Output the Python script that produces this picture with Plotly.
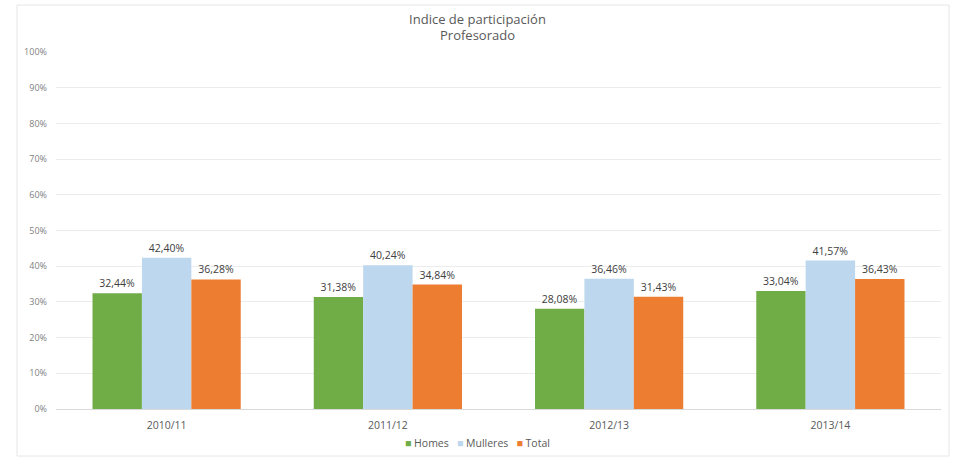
import plotly.graph_objects as go

categories = ["2010/11", "2011/12", "2012/13", "2013/14"]
homes = [32.44, 31.38, 28.08, 33.04]
mulleres = [42.40, 40.24, 36.46, 41.57]
total = [36.28, 34.84, 31.43, 36.43]
y_ticks = [0, 10, 20, 30, 40, 50, 60, 70, 80, 90, 100]
y_tick_labels = [f"{v}%" for v in y_ticks]

FONT = "Open Sans"
series = [("Homes", homes, "#70AD47"), ("Mulleres", mulleres, "#BDD7EE"), ("Total", total, "#ED7D31")]

fig = go.Figure()
for name, vals, col in series:
    fig.add_trace(go.Bar(
        name=name, x=categories, y=vals, marker=dict(color=col, line=dict(width=0)),
        texttemplate="%{y:.2f}%", textposition="outside", cliponaxis=False,
        textfont=dict(family=FONT, size=10.5, color="#404040"),
    ))

W, H = 955, 458
l, r, t, b = 56, 14, 52, 49
pw, ph = W - l - r, H - t - b

def px(x):
    return (x - l) / pw

def py(y):
    return (H - b - y) / ph

legend_text = "&nbsp;&nbsp;&nbsp;".join(
    f"<span style='color:{col}'>■</span> {name}" for name, _, col in series
)

fig.update_layout(
    width=W, height=H, margin=dict(l=l, r=r, t=t, b=b, autoexpand=False),
    paper_bgcolor="white", plot_bgcolor="white",
    separators=",.",
    barmode="group", bargap=0.33, bargroupgap=0,
    showlegend=False,
    font=dict(family=FONT, color="#595959"),
    title=dict(text="Indice de participación<br>Profesorado", x=0.5, xanchor="center",
               yref="container", y=1 - 23.5 / H, yanchor="middle",
               font=dict(family=FONT, size=13, color="#595959")),
    xaxis=dict(showgrid=False, tickfont=dict(family=FONT, size=10.5, color="#595959"),
               showline=True, linecolor="#d9d9d9", linewidth=1, ticks="", automargin=False,
               ticklabelstandoff=6),
    yaxis=dict(range=[0, 100], tickmode="array", tickvals=y_ticks, ticktext=y_tick_labels,
               showgrid=True, gridcolor="#ececec", gridwidth=1, zeroline=False, automargin=False,
               tickfont=dict(family=FONT, size=9, color="#7f7f7f"), ticks="", ticklabelstandoff=8),
    annotations=[dict(text=legend_text, xref="paper", yref="paper", x=px(477.5), y=py(443),
                      xanchor="center", yanchor="middle", showarrow=False,
                      font=dict(family=FONT, size=10.5, color="#595959"))],
    shapes=[dict(type="rect", xref="paper", yref="paper", x0=px(17), x1=px(949),
                 y0=py(456), y1=py(5), line=dict(color="#e6e6e6", width=1), layer="below")],
)

fig.write_html("out.html", config={"displayModeBar": False},
               post_script="document.body.style.margin='0px';document.body.style.overflow='hidden';")
